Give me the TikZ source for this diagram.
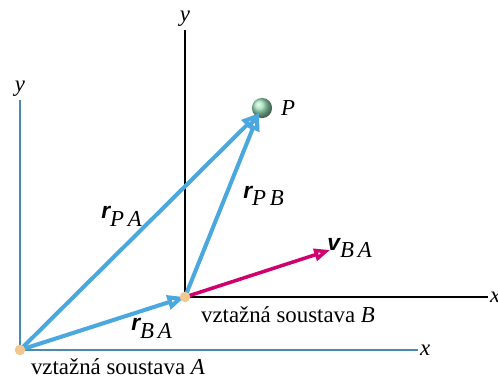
\documentclass[tikz,border=0pt]{standalone}
\usepackage{fontspec}
\setmainfont{Liberation Serif}
\newfontfamily\vecfont{Liberation Sans}
\usetikzlibrary{arrows.meta}
\definecolor{osaA}{HTML}{4A8AAA}
\definecolor{vekt}{HTML}{4AA8DE}
\definecolor{rychl}{HTML}{D0006F}
\definecolor{pocatek}{HTML}{F0C890}
\newcommand{\vek}[2]{{\vecfont\bfseries\itshape #1}$_{\textit{#2}}$}
\tikzset{
  polohovy/.style={vekt,line width=2.3pt,-{Triangle[open,fill=white,length=10pt,width=8pt]}},
  osa/.style={line width=0.8pt},
  bod/.style={circle,fill=pocatek,inner sep=0pt,minimum size=6pt}
}
\begin{document}
\begin{tikzpicture}[x=0.02cm,y=-0.02cm,font=\fontsize{13}{15}\selectfont]
    \useasboundingbox (0,0) rectangle (498,379);
    % soustava A
    \coordinate (A) at (20,350);
    \coordinate (Ax) at (418,350);
    \coordinate (Ay) at (20,100);
    \draw[osa,osaA] (Ay)--(A)--(Ax);
    \node[anchor=west,inner sep=1pt] (xA) at (Ax) {\textit{x}};
    \node[anchor=south,inner sep=2pt] (yA) at (Ay) {\textit{y}};
    % soustava B
    \coordinate (B) at (185,297);
    \coordinate (Bx) at (488,297);
    \coordinate (By) at (185,30);
    \draw[osa] (By)--(B)--(Bx);
    \node[anchor=west,inner sep=1pt] (xB) at (Bx) {\textit{x}};
    \node[anchor=south,inner sep=2pt] (yB) at (By) {\textit{y}};
    % teleso P
    \node[circle,inner sep=0pt,minimum size=11.5pt,ball color=green!40!teal!40!white] (P) at (262,108) {};
    \node[anchor=west] (Plab) at (275,108) {\textit{P}};
    % vektory
    \coordinate (Pt) at (259,113);
    \draw[polohovy] (A) -- (Pt);
    \draw[polohovy] (A) -- (B);
    \draw[polohovy] (B) -- (Pt);
    \coordinate (V) at (330,250);
    \draw[rychl,line width=2pt,-{Triangle[open,fill=white,length=9pt,width=7pt]}] (B) -- (V);
    % pocatky
    \node[bod] (oA) at (A) {};
    \node[bod] (oB) at (B) {};
    % popisky
    \node (rPA) at (122,216) {\vek{r}{P\,A}};
    \node (rPB) at (264,196) {\vek{r}{P\,B}};
    \node (rBA) at (152,328) {\vek{r}{B\,A}};
    \node (vBA) at (350,248) {\vek{v}{B\,A}};
    \node (sB) at (288,315) {vztažná soustava \textit{B}};
    \node (sA) at (118,367) {vztažná soustava \textit{A}};
\end{tikzpicture}
\end{document}
